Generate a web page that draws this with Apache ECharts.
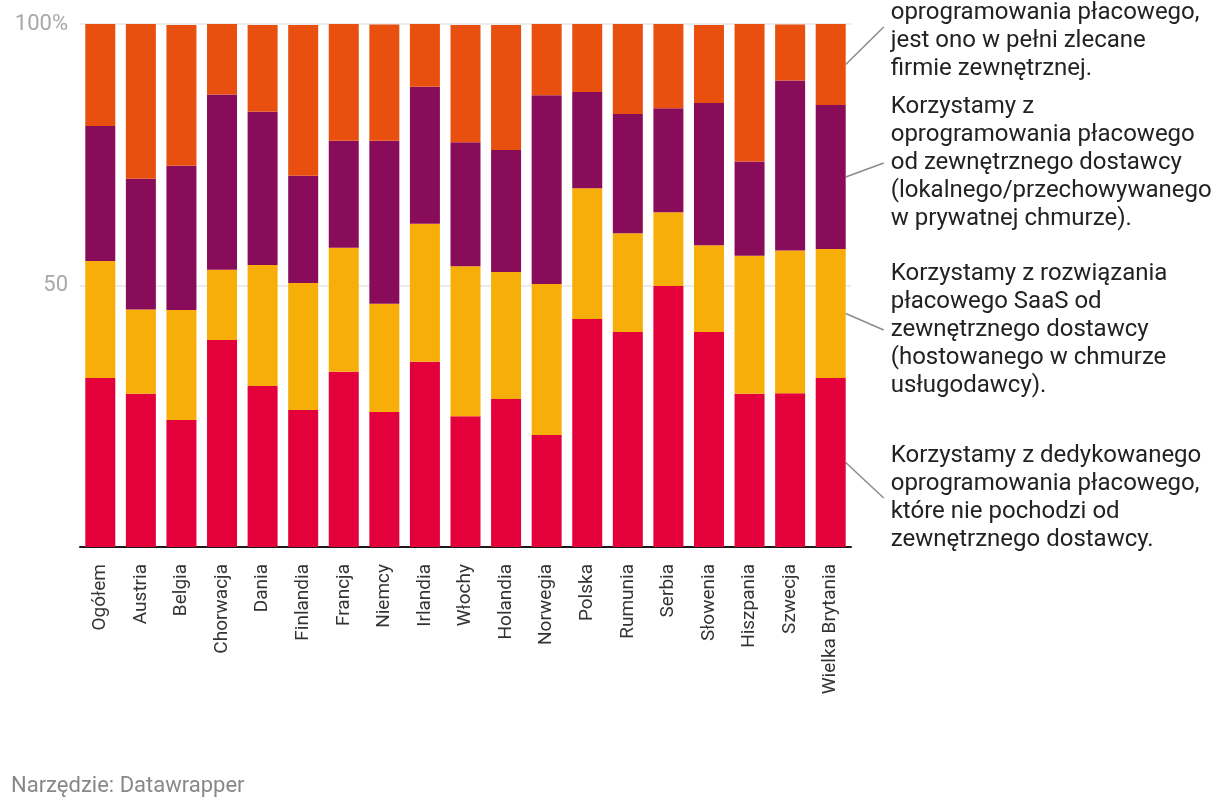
<!DOCTYPE html>
<html>
<head>
<meta charset="utf-8">
<script src="https://cdn.jsdelivr.net/npm/echarts@6/dist/echarts.min.js"></script>
<style>
html,body{margin:0;padding:0;background:#fff;}
#chart{width:1220px;height:808px;}
</style>
</head>
<body>
<div id="chart"></div>
<script>
const categories = ["Ogółem","Austria","Belgia","Chorwacja","Dania","Finlandia","Francja","Niemcy","Irlandia","Włochy","Holandia","Norwegia","Polska","Rumunia","Serbia","Słowenia","Hiszpania","Szwecja","Wielka Brytania"];

const dedicated = [32.3,29.3,24.3,39.6,30.8,26.2,33.5,25.8,35.4,25.0,28.3,21.4,43.6,41.1,49.9,41.1,29.3,29.4,32.3];
const saas      = [22.4,16.1,21.0,13.4,23.1,24.3,23.7,20.7,26.4,28.7,24.3,28.9,25.0,18.9,14.1,16.6,26.4,27.3,24.7];
const vendor    = [25.8,25.0,27.6,33.5,29.3,20.5,20.5,31.2,26.2,23.7,23.3,36.1,18.4,22.8,19.9,27.2,18.0,32.5,27.5];
const outsourced= [19.7,29.6,26.9,13.8,16.6,28.8,22.4,22.2,12.0,22.4,23.9,13.6,13.0,17.2,16.3,14.9,26.4,10.7,15.5];

const seriesNames = [
  "Korzystamy z dedykowanego\noprogramowania płacowego,\nktóre nie pochodzi od\nzewnętrznego dostawcy.",
  "Korzystamy z rozwiązania\npłacowego SaaS od\nzewnętrznego dostawcy\n(hostowanego w chmurze\nusługodawcy).",
  "Korzystamy z\noprogramowania płacowego\nod zewnętrznego dostawcy\n(lokalnego/przechowywanego\nw prywatnej chmurze).",
  "Nie korzystamy z\noprogramowania płacowego,\njest ono w pełni zlecane\nfirmie zewnętrznej."
];
const yTicks = {0: "", 50: "50", 100: "100%"};
const footer = "Narzędzie: Datawrapper";

const colors = ["#e4003a", "#f8ae08", "#890c5a", "#e94f0f"];
const labelOffsets = [35.5, 16.5, -14, -37.5];
const seriesData = [dedicated, saas, vendor, outsourced];
const FONT = "Roboto, 'Noto Sans', sans-serif";

const chart = echarts.init(document.getElementById('chart'), null, {renderer: 'canvas'});
const option = {
  animation: false,
  backgroundColor: '#ffffff',
  grid: {left: 80, right: 369, top: 24, bottom: 261, containLabel: false},
  xAxis: {
    type: 'category',
    data: categories,
    axisTick: {show: false},
    axisLine: {show: true, lineStyle: {color: '#1a1a1a', width: 2}},
    axisLabel: {rotate: 90, interval: 0, margin: 17, fontSize: 19, color: '#333333', fontFamily: FONT}
  },
  yAxis: {
    type: 'value', min: 0, max: 100, interval: 50,
    axisLine: {show: false}, axisTick: {show: false},
    splitLine: {show: true, lineStyle: {color: '#e6e6e6', width: 1.5}},
    axisLabel: {margin: 12, fontSize: 22, color: '#a8a8a8', fontFamily: FONT,
      formatter: v => (yTicks[v] !== undefined ? yTicks[v] : String(v))}
  },
  series: seriesData.map((d, i) => ({
    type: 'bar', name: seriesNames[i], stack: 'total', data: d,
    barWidth: 30, itemStyle: {color: colors[i]}
  }))
};
chart.setOption(option);

// direct labels with connector lines
const graphics = [];
const last = categories.length - 1;
let cum = 0;
for (let i = 0; i < seriesData.length; i++) {
  const v = seriesData[i][last];
  const mid = cum + v / 2;
  cum += v;
  const p = chart.convertToPixel({xAxisIndex: 0, yAxisIndex: 0}, [last, mid]);
  const x0 = p[0] + 15;
  const y0 = p[1];
  const y1 = y0 + labelOffsets[i];
  graphics.push({type: 'line', shape: {x1: x0, y1: y0, x2: x0 + 38, y2: y1},
    style: {stroke: '#8c8c8c', lineWidth: 1.5}, silent: true});
  graphics.push({type: 'text', x: x0 + 45, y: y1,
    style: {text: seriesNames[i], fill: '#222222', font: '24px ' + FONT, lineHeight: 28,
      textAlign: 'left', textVerticalAlign: 'middle', verticalAlign: 'middle'}, silent: true});
}
graphics.push({type: 'text', left: 11, top: 775,
  style: {text: footer, fill: '#888888', font: '22px ' + FONT}});
chart.setOption({graphic: graphics});
</script>
</body>
</html>
